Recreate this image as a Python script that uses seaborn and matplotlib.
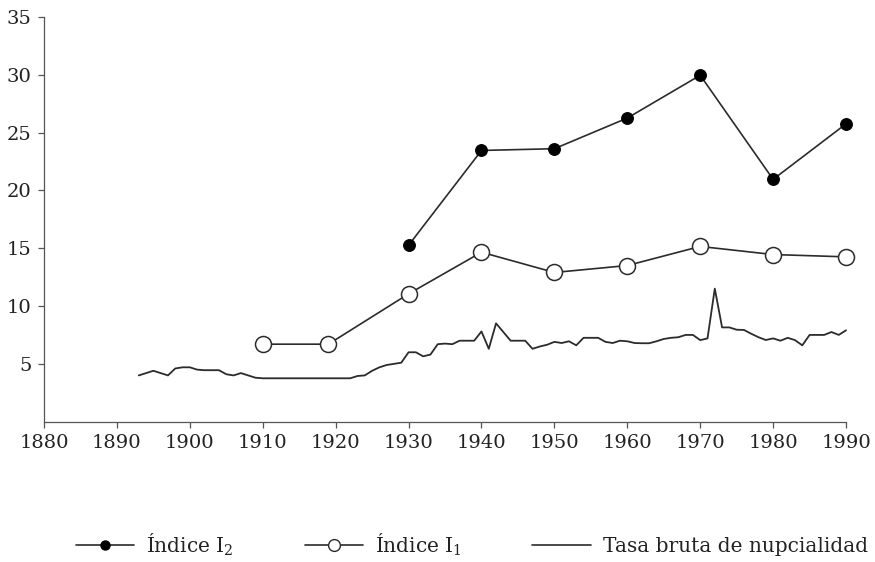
import matplotlib
matplotlib.use("Agg")
import matplotlib.pyplot as plt
import seaborn as sns
import pandas as pd
from matplotlib.lines import Line2D

# census years / index values
i2_years = [1930, 1940, 1950, 1960, 1970, 1980, 1990]
i2_values = [15.25, 23.45, 23.6, 26.25, 29.95, 20.95, 25.75]

i1_years = [1910, 1919, 1930, 1940, 1950, 1960, 1970, 1980, 1990]
i1_values = [6.7, 6.7, 11.05, 14.65, 12.9, 13.5, 15.15, 14.45, 14.25]

# crude marriage rate, yearly 1893-1990
tasa_years = list(range(1893, 1991))
tasa_values = [
    4.0, 4.2, 4.4, 4.2, 4.0, 4.6, 4.7, 4.7, 4.5, 4.45,       # 1893-1902
    4.45, 4.45, 4.1, 4.0, 4.2, 4.0, 3.8, 3.75, 3.75, 3.75,   # 1903-1912
    3.75, 3.75, 3.75, 3.75, 3.75, 3.75, 3.75, 3.75, 3.75, 3.75,  # 1913-1922
    3.95, 4.0, 4.4, 4.7, 4.9, 5.0, 5.1, 6.0, 6.0, 5.65,      # 1923-1932
    5.8, 6.7, 6.75, 6.7, 7.0, 7.0, 7.0, 7.8, 6.3, 8.5,       # 1933-1942
    7.75, 7.0, 7.0, 7.0, 6.3, 6.5, 6.65, 6.9, 6.8, 6.95,     # 1943-1952
    6.6, 7.25, 7.25, 7.25, 6.9, 6.8, 7.0, 6.95, 6.8, 6.78,   # 1953-1962
    6.78, 6.95, 7.15, 7.25, 7.3, 7.5, 7.5, 7.05, 7.2, 11.5,  # 1963-1972
    8.15, 8.15, 7.95, 7.93, 7.6, 7.3, 7.06, 7.2, 7.0, 7.25,  # 1973-1982
    7.05, 6.6, 7.5, 7.5, 7.5, 7.75, 7.5, 7.9,                # 1983-1990
]

labels = ["Índice I$_2$", "Índice I$_1$", "Tasa bruta de nupcialidad"]

sns.set_style("ticks")
plt.rcParams["font.family"] = ["DejaVu Serif"]
plt.rcParams["mathtext.fontset"] = "dejavuserif"

ink = "#2b2b2b"

fig = plt.figure(figsize=(8.75, 5.62), dpi=100)
ax = fig.add_axes([0.0503, 0.2497, 0.9166, 0.7203])

sns.lineplot(x=tasa_years, y=tasa_values, ax=ax, color=ink, linewidth=1.3)
sns.lineplot(x=i1_years, y=i1_values, ax=ax, color=ink, linewidth=1.2,
             marker="o", markersize=11.5, markerfacecolor="white",
             markeredgecolor=ink, markeredgewidth=1.1)
sns.lineplot(x=i2_years, y=i2_values, ax=ax, color=ink, linewidth=1.2,
             marker="o", markersize=8.5, markerfacecolor="black",
             markeredgecolor="black")
for ln in ax.lines:
    ln.set_clip_on(False)

ax.set_xlim(1880, 1990)
ax.set_ylim(0, 35)
ax.set_xticks(range(1880, 1991, 10))
ax.set_yticks(range(5, 36, 5))
ax.set_xlabel("")
ax.set_ylabel("")
sns.despine(ax=ax)
for s in ["left", "bottom"]:
    ax.spines[s].set_color("#555555")
    ax.spines[s].set_linewidth(0.9)
ax.tick_params(direction="out", length=4, width=0.9, color="#555555",
               labelsize=14, labelcolor="#222222", pad=5)

# legend markers are drawn smaller than in the plot
handles = [
    Line2D([], [], color=ink, lw=1.2, marker="o", markersize=6.5,
           markerfacecolor="black", markeredgecolor="black"),
    Line2D([], [], color=ink, lw=1.2, marker="o", markersize=8.5,
           markerfacecolor="white", markeredgecolor=ink),
    Line2D([], [], color=ink, lw=1.2),
]
fig.legend(handles, labels, loc="center", bbox_to_anchor=(0.5394, 0.031),
           ncol=3, frameon=False, fontsize=14.5, handlelength=2.9,
           handletextpad=0.6, columnspacing=3.5, labelcolor="#222222")

plt.savefig("out.png", dpi=100)
